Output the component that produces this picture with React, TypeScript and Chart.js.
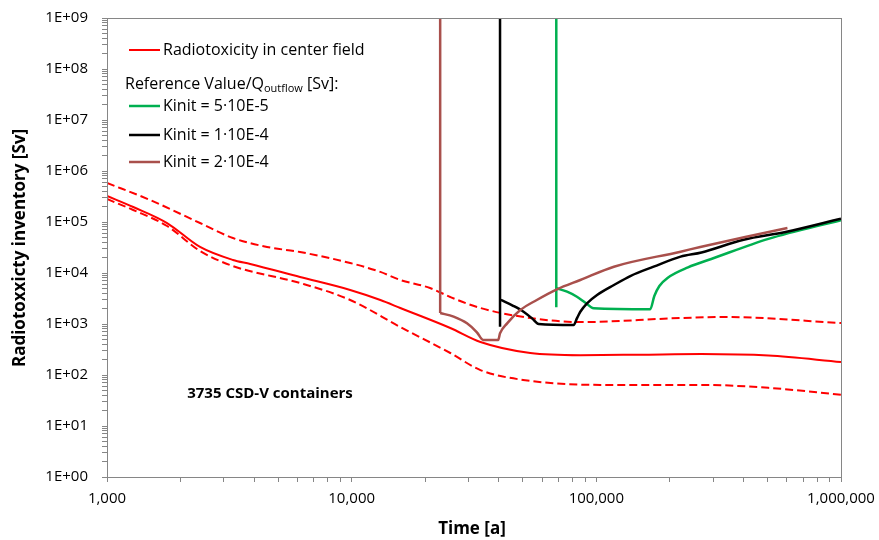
import React, { useEffect, useRef } from 'react';
import { Chart, registerables } from 'chart.js';

Chart.register(...registerables);

// ---- Data (time in years, radiotoxicity in Sv) ----
const centerX = [1000, 1280, 1760, 2400, 3270, 3850, 6150, 9860, 13100, 15800, 25300, 33600, 53700, 86000, 150000, 269000, 505000, 1000000];
const centerY = [324000, 197000, 95500, 32400, 18000, 15000, 8350, 4650, 2950, 2060, 835, 444, 270, 245, 250, 257, 240, 180];

const upperX = [1000, 1500, 2400, 3270, 4510, 6150, 9860, 13100, 15800, 20900, 25300, 33600, 53700, 86000, 221000, 344000, 1000000];
const upperY = [582000, 270000, 95500, 48500, 32400, 25800, 15700, 10500, 7300, 5080, 3380, 2060, 1310, 1090, 1310, 1370, 1046];

const lowerX = [1000, 1280, 1760, 2400, 3270, 6150, 9860, 15800, 25300, 33600, 50200, 104000, 269000, 505000, 1000000];
const lowerY = [282000, 172000, 83500, 27000, 13700, 6370, 2960, 873, 270, 125, 80, 64, 64, 56, 41];

// vertical drops (entry of each Kinit curve)
const greenDropX = [68600, 68600];
const greenDropY = [1e9, 2120];
const blackDropX = [40400, 40400];
const blackDropY = [1e9, 885];
const brownDropX = [23000, 23000];
const brownDropY = [1e9, 1640];

// Kinit curves after the drop
const greenX = [68800, 75900, 83300, 90200, 97500, 166000, 172600, 181000, 196000, 237000, 295000, 505000, 1000000];
const greenY = [5010, 4300, 3430, 2620, 2030, 1940, 3540, 5560, 8090, 12900, 18800, 46700, 109000];

const blackX = [40700, 45900, 50400, 54600, 58100, 80800, 83300, 86000, 91600, 100700, 118000, 137700, 171500, 221000, 269000, 400000, 593000, 1000000];
const blackY = [2960, 2250, 1740, 1290, 1000, 955, 1290, 1740, 2550, 3710, 5820, 8730, 13300, 20900, 25300, 45000, 63700, 116000];

const brownX = [23000, 26100, 29600, 32500, 34500, 39700, 40400, 43200, 48900, 57100, 69000, 86000, 118000, 221000, 266000, 406000, 604000];
const brownY = [1640, 1390, 1030, 687, 485, 485, 656, 1030, 1880, 2960, 4790, 7300, 13300, 26200, 32400, 50800, 76200];

const legendLabels = [
  'Radiotoxicity in center field',
  'Kinit = 5·10E-5',
  'Kinit = 1·10E-4',
  'Kinit = 2·10E-4',
];
const annotationText = '3735 CSD-V containers';
const xTitle = 'Time [a]';
const yTitle = 'Radiotoxxicty inventory [Sv]';

const X_TICKS: number[] = [];
for (let e = 3; e < 6; e++) for (let m = 1; m < 10; m++) X_TICKS.push(m * Math.pow(10, e));
X_TICKS.push(1e6);
const Y_TICKS: number[] = [];
for (let e = 0; e < 9; e++) for (let m = 1; m < 10; m++) Y_TICKS.push(m * Math.pow(10, e));
Y_TICKS.push(1e9);

const isPow10 = (v: number) => Math.abs(Math.log10(v) - Math.round(Math.log10(v))) < 1e-9;
const toPts = (xs: number[], ys: number[]) => xs.map((x, i) => ({ x, y: ys[i] }));

const FONT = '"Open Sans", "Noto Sans", sans-serif';
const RED = '#FF0000';
const GREEN = '#00B050';
const BLACK = '#000000';
const BROWN = '#A9504C';
const AXIS = '#868686';

export default function App() {
  const ref = useRef<HTMLCanvasElement>(null);
  useEffect(() => {
    document.body.style.margin = '0';
    const overlay = {
      id: 'overlay',
      afterDraw(chart: any) {
        const { ctx, chartArea: a } = chart;
        ctx.save();
        ctx.strokeStyle = AXIS;
        ctx.lineWidth = 1;
        ctx.strokeRect(Math.round(a.left) + 0.5, Math.round(a.top) + 0.5, Math.round(a.right - a.left), Math.round(a.bottom - a.top));

        ctx.fillStyle = '#000';
        ctx.textBaseline = 'middle';
        ctx.textAlign = 'left';
        const item = (color: string, y: number, text: string, w: number) => {
          ctx.strokeStyle = color;
          ctx.lineWidth = w;
          ctx.setLineDash([]);
          ctx.beginPath();
          ctx.moveTo(129, y);
          ctx.lineTo(160, y);
          ctx.stroke();
          ctx.font = `16px ${FONT}`;
          ctx.fillText(text, 163, y);
        };
        item(RED, 50, legendLabels[0], 2);
        let x = 125;
        const ry = 84;
        ctx.font = `16px ${FONT}`;
        ctx.fillText('Reference Value/Q', x, ry);
        x += ctx.measureText('Reference Value/Q').width;
        ctx.font = `11px ${FONT}`;
        ctx.fillText('outflow', x, ry + 5);
        x += ctx.measureText('outflow').width;
        ctx.font = `16px ${FONT}`;
        ctx.fillText(' [Sv]:', x, ry);
        item(GREEN, 106, legendLabels[1], 2.5);
        item(BLACK, 135, legendLabels[2], 2.5);
        item(BROWN, 162, legendLabels[3], 2.5);

        ctx.font = `bold 15px ${FONT}`;
        ctx.textAlign = 'center';
        ctx.fillText(annotationText, 270, 394);

        ctx.font = `bold 17px ${FONT}`;
        ctx.fillText(xTitle, 472, 529);
        ctx.translate(20, 248);
        ctx.rotate(-Math.PI / 2);
        ctx.fillText(yTitle, 0, 0);
        ctx.restore();
      },
    };

    const line = (data: any, color: string, width: number, dash: number[] = [], smooth = true) => ({
      data,
      borderColor: color,
      backgroundColor: color,
      borderWidth: width,
      borderDash: dash,
      pointRadius: 0,
      showLine: true,
      cubicInterpolationMode: smooth ? 'monotone' : 'default',
      tension: 0,
      fill: false,
    });

    const chart = new Chart(ref.current as HTMLCanvasElement, {
      type: 'scatter',
      data: {
        datasets: [
          line(toPts(brownDropX, brownDropY), BROWN, 2.5, [], false),
          line(toPts(brownX, brownY), BROWN, 2.5),
          line(toPts(blackDropX, blackDropY), BLACK, 2.5, [], false),
          line(toPts(blackX, blackY), BLACK, 2.5),
          line(toPts(greenDropX, greenDropY), GREEN, 2.5, [], false),
          line(toPts(greenX, greenY), GREEN, 2.5),
          line(toPts(centerX, centerY), RED, 2),
          line(toPts(upperX, upperY), RED, 2, [8, 4]),
          line(toPts(lowerX, lowerY), RED, 2, [8, 4]),
        ] as any,
      },
      options: {
        responsive: false,
        animation: false,
        devicePixelRatio: 1,
        layout: { padding: { top: 18, right: 38, left: 0, bottom: 0 } },
        plugins: { legend: { display: false }, tooltip: { enabled: false } },
        scales: {
          x: {
            type: 'logarithmic',
            min: 1000,
            max: 1e6,
            afterBuildTicks: (s: any) => {
              s.ticks = X_TICKS.map((v) => ({ value: v, major: isPow10(v) }));
            },
            afterFit: (s: any) => {
              s.height = 63;
              s.paddingLeft = 0;
              s.paddingRight = 0;
            },
            ticks: {
              autoSkip: false,
              maxRotation: 0,
              padding: 8,
              color: '#000',
              font: { family: FONT, size: 15 },
              callback: (v: any) => (isPow10(Number(v)) ? Number(v).toLocaleString('en-US') : ''),
            },
            grid: { drawOnChartArea: false, drawTicks: true, tickLength: 5, color: AXIS },
            border: { color: AXIS },
          },
          y: {
            type: 'logarithmic',
            min: 1,
            max: 1e9,
            afterBuildTicks: (s: any) => {
              s.ticks = Y_TICKS.map((v) => ({ value: v, major: isPow10(v) }));
            },
            afterFit: (s: any) => {
              s.width = 107;
              s.paddingTop = 0;
              s.paddingBottom = 0;
            },
            ticks: {
              autoSkip: false,
              padding: 14,
              color: '#000',
              font: { family: FONT, size: 15 },
              callback: (v: any) =>
                isPow10(Number(v)) ? '1E+' + String(Math.round(Math.log10(Number(v)))).padStart(2, '0') : '',
            },
            grid: { drawOnChartArea: false, drawTicks: true, tickLength: 5, color: AXIS },
            border: { color: AXIS },
          },
        },
      } as any,
      plugins: [overlay],
    });
    return () => chart.destroy();
  }, []);
  return (
    <div style={{ width: 879, height: 540 }}>
      <canvas ref={ref} width={879} height={540} />
    </div>
  );
}
